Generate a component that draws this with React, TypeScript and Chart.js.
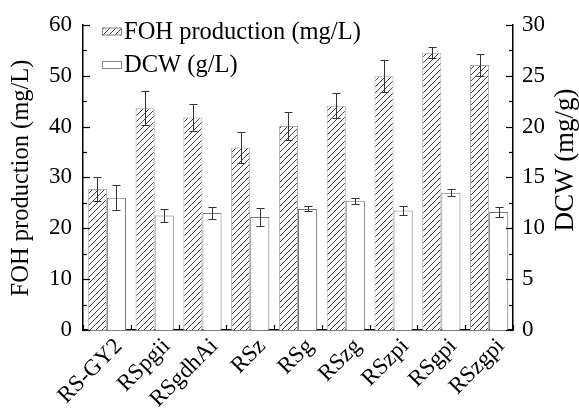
import React, { useEffect, useRef } from 'react';
import { Chart, registerables } from 'chart.js';

Chart.register(...registerables);

const categories = ['RS-GY2', 'RSpgii', 'RSgdhAi', 'RSz', 'RSg', 'RSzg', 'RSzpi', 'RSgpi', 'RSzgpi'];
const fohValues = [27.7, 43.6, 41.8, 35.9, 40.1, 44.1, 49.9, 54.5, 52.1];
const fohErrors = [2.4, 3.3, 2.6, 3.0, 2.8, 2.4, 3.1, 1.1, 2.2];
const dcwValues = [13.0, 11.25, 11.5, 11.1, 11.9, 12.7, 11.75, 13.5, 11.6];
const dcwErrors = [1.25, 0.6, 0.6, 0.9, 0.25, 0.3, 0.4, 0.35, 0.5];
const fohLabel = 'FOH production (mg/L)';
const dcwLabel = 'DCW (g/L)';
const leftTitle = 'FOH production (mg/L)';
const rightTitle = 'DCW (mg/g)';
const leftMax = 60;
const leftStep = 10;
const rightMax = 30;
const rightStep = 5;

const FONT = "'Liberation Serif', 'Times New Roman', serif";

function makeHatch(): CanvasPattern | string {
  const c = document.createElement('canvas');
  c.width = 6;
  c.height = 6;
  const g = c.getContext('2d');
  if (!g) return '#fff';
  g.fillStyle = '#fff';
  g.fillRect(0, 0, 6, 6);
  g.strokeStyle = '#444';
  g.lineWidth = 1;
  g.beginPath();
  g.moveTo(0, 6);
  g.lineTo(6, 0);
  g.moveTo(-1, 1);
  g.lineTo(1, -1);
  g.moveTo(5, 7);
  g.lineTo(7, 5);
  g.stroke();
  return g.createPattern(c, 'repeat') || '#fff';
}

const errorBarPlugin = {
  id: 'errorBars',
  afterDatasetsDraw(chart: any) {
    const ctx = chart.ctx;
    const errs = [fohErrors, dcwErrors];
    const vals = [fohValues, dcwValues];
    ctx.save();
    ctx.strokeStyle = '#333';
    ctx.lineWidth = 1;
    chart.data.datasets.forEach((ds: any, i: number) => {
      const meta = chart.getDatasetMeta(i);
      const scale = chart.scales[meta.yAxisID];
      meta.data.forEach((el: any, j: number) => {
        const v = vals[i][j];
        const e = errs[i][j];
        const x = Math.round(el.x) + 0.5;
        const yT = Math.round(scale.getPixelForValue(v + e)) + 0.5;
        const yB = Math.round(scale.getPixelForValue(v - e)) + 0.5;
        ctx.beginPath();
        ctx.moveTo(x, yT);
        ctx.lineTo(x, yB);
        ctx.moveTo(x - 4, yT);
        ctx.lineTo(x + 4, yT);
        ctx.moveTo(x - 4, yB);
        ctx.lineTo(x + 4, yB);
        ctx.stroke();
      });
    });
    ctx.restore();
  },
};

const decorPlugin = {
  id: 'decor',
  afterDraw(chart: any) {
    const ctx = chart.ctx;
    const area = chart.chartArea;
    const yL = chart.scales.yL;
    const yR = chart.scales.yR;
    const x = chart.scales.x;
    ctx.save();
    ctx.strokeStyle = '#000';
    ctx.lineWidth = 1.2;
    for (let v = 0; v <= leftMax; v += leftStep / 2) {
      const y = Math.round(yL.getPixelForValue(v)) + 0.5;
      const len = v % leftStep === 0 ? 7 : 4;
      ctx.beginPath();
      ctx.moveTo(area.left, y);
      ctx.lineTo(area.left + len, y);
      ctx.stroke();
    }
    for (let v = 0; v <= rightMax; v += rightStep / 2) {
      const y = Math.round(yR.getPixelForValue(v)) + 0.5;
      const len = v % rightStep === 0 ? 7 : 4;
      ctx.beginPath();
      ctx.moveTo(area.right, y);
      ctx.lineTo(area.right - len, y);
      ctx.stroke();
    }
    for (let i = 0; i <= categories.length; i++) {
      const px = Math.round(x.getPixelForValue(i - 0.5)) + 0.5;
      ctx.beginPath();
      ctx.moveTo(px, area.bottom);
      ctx.lineTo(px, area.bottom - 5);
      ctx.stroke();
    }
    ctx.fillStyle = '#000';
    ctx.textAlign = 'center';
    ctx.textBaseline = 'middle';
    ctx.font = `24.5px ${FONT}`;
    ctx.save();
    ctx.translate(22, 178);
    ctx.rotate(-Math.PI / 2);
    ctx.fillText(leftTitle, 0, 0);
    ctx.restore();
    ctx.font = `27px ${FONT}`;
    ctx.save();
    ctx.translate(566, 160);
    ctx.rotate(-Math.PI / 2);
    ctx.fillText(rightTitle, 0, 0);
    ctx.restore();
    const items = chart.data.datasets;
    const rows = [31.5, 65];
    ctx.font = `24.5px ${FONT}`;
    items.forEach((ds: any, i: number) => {
      const cy = rows[i];
      ctx.fillStyle = ds.backgroundColor;
      ctx.fillRect(102, cy - 4, 20, 8);
      ctx.strokeStyle = '#888';
      ctx.lineWidth = 1;
      ctx.strokeRect(102.5, cy - 3.5, 19, 7);
      ctx.fillStyle = '#000';
      ctx.textAlign = 'left';
      ctx.textBaseline = 'middle';
      ctx.fillText(ds.label, 124, cy + 1);
    });
    ctx.restore();
  },
};

export default function App() {
  const ref = useRef<HTMLCanvasElement | null>(null);
  useEffect(() => {
    if (!ref.current) return;
    const hatch = makeHatch();
    const tickFont = { family: FONT, size: 23 };
    const chart = new Chart(ref.current, {
      type: 'bar',
      data: {
        labels: categories,
        datasets: [
          {
            label: fohLabel,
            data: fohValues,
            yAxisID: 'yL',
            backgroundColor: hatch as any,
            borderColor: '#aaa',
            borderWidth: 1,
            barPercentage: 1,
            categoryPercentage: 0.8,
          },
          {
            label: dcwLabel,
            data: dcwValues,
            yAxisID: 'yR',
            backgroundColor: '#fff',
            borderColor: '#777',
            borderWidth: 1,
            barPercentage: 1,
            categoryPercentage: 0.8,
          },
        ],
      },
      options: {
        responsive: false,
        animation: false,
        devicePixelRatio: 1,
        layout: { padding: { top: 17, left: 0, right: 0, bottom: 0 } },
        plugins: { legend: { display: false }, tooltip: { enabled: false } },
        scales: {
          x: {
            type: 'category',
            offset: true,
            grid: { display: false, drawTicks: false },
            border: { display: true, color: '#000', width: 1.5 },
            ticks: {
              font: tickFont,
              color: '#000',
              minRotation: 45,
              maxRotation: 45,
              autoSkip: false,
              padding: 3,
              labelOffset: 12,
            },
            afterFit: (s: any) => {
              s.height = 81;
            },
          },
          yL: {
            type: 'linear',
            position: 'left',
            min: 0,
            max: leftMax,
            grid: { display: false, drawTicks: false },
            border: { display: true, color: '#000', width: 1.5 },
            ticks: { stepSize: leftStep, font: tickFont, color: '#000', padding: 11 },
            afterFit: (s: any) => {
              s.width = 83;
            },
          },
          yR: {
            type: 'linear',
            position: 'right',
            min: 0,
            max: rightMax,
            grid: { display: false, drawTicks: false },
            border: { display: true, color: '#000', width: 1.5 },
            ticks: { stepSize: rightStep, font: tickFont, color: '#000', padding: 9 },
            afterFit: (s: any) => {
              s.width = 66;
            },
          },
        },
      },
      plugins: [errorBarPlugin, decorPlugin],
    });
    return () => chart.destroy();
  }, []);
  return (
    <div style={{ position: 'absolute', left: 0, top: 0, width: 579, height: 411, background: '#fff' }}>
      <canvas ref={ref} width={579} height={411} style={{ display: 'block' }} />
    </div>
  );
}
